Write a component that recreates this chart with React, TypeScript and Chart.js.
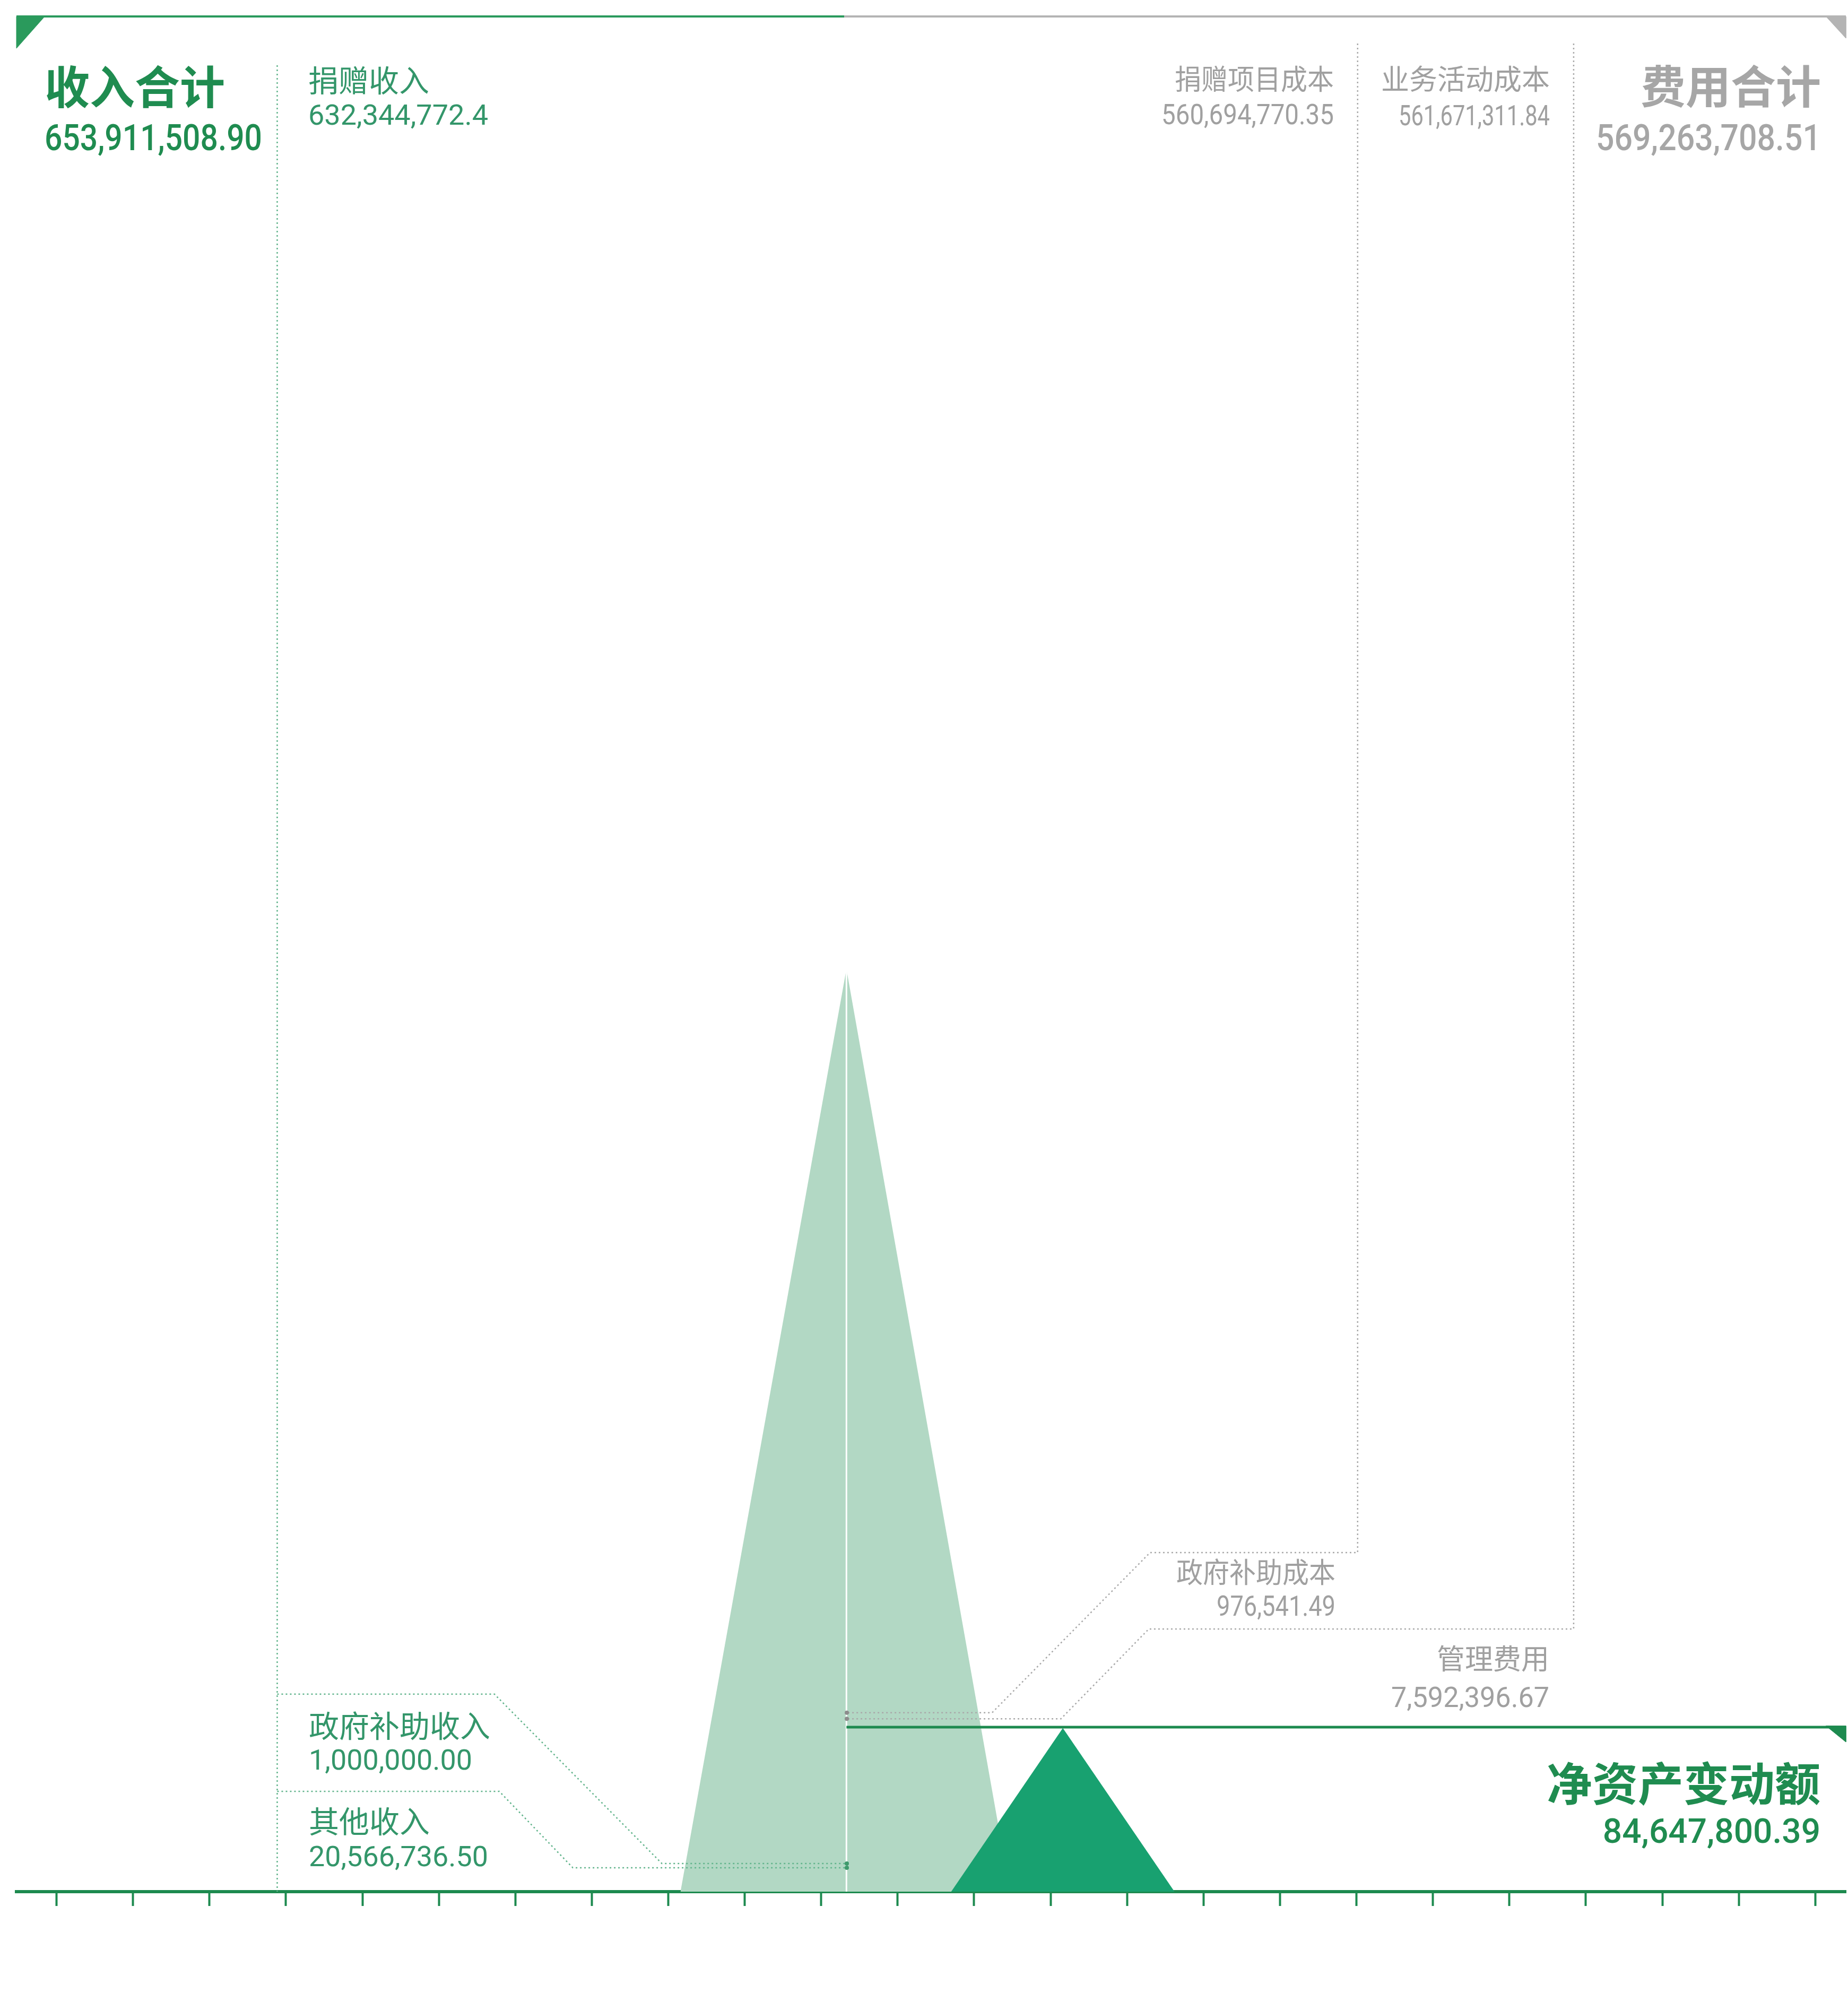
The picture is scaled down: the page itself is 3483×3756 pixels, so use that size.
import React, { useEffect, useRef } from 'react';
import { Chart, registerables } from 'chart.js';

Chart.register(...registerables);

// ---------- data ----------
const TICKS = [0, 1, 2, 3, 4, 5, 6, 7, 8, 9, 10, 11, 12, 13, 14, 15, 16, 17, 18, 19, 20, 21, 22, 23];

const INCOME_TITLE = '收入合计';
const INCOME_TOTAL = '653,911,508.90';
const INCOME_ITEMS = ['捐赠收入', '政府补助收入', '其他收入'];
const INCOME_VALUES = ['632,344,772.4', '1,000,000.00', '20,566,736.50'];

const EXPENSE_TITLE = '费用合计';
const EXPENSE_TOTAL = '569,263,708.51';
const EXPENSE_ITEMS = ['捐赠项目成本', '业务活动成本', '政府补助成本', '管理费用'];
const EXPENSE_VALUES = ['560,694,770.35', '561,671,311.84', '976,541.49', '7,592,396.67'];

const NET_TITLE = '净资产变动额';
const NET_VALUE = '84,647,800.39';

// shapes, in chart units (x = tick index, y = height 0..100)
const PEAK_X = [8.16, 10.33, 12.47];
const PEAK_Y = [0, 49.2, 0];
const NET_PEAK_X = [11.7, 13.16, 14.62];
const NET_PEAK_Y = [0, 8.72, 0];
const NET_LINE_X = [10.33, 23.18];
const NET_LINE_Y = [8.77, 8.77];
const NET_CORNER_X = [23.14, 23.4, 23.4, 23.14];
const NET_CORNER_Y = [8.84, 8.84, 7.98, 8.84];

const TOP_INCOME_X = [-0.524, 10.3];
const TOP_EXPENSE_X = [10.3, 23.4];
const TOP_Y = [100, 100];
const TOP_LEFT_CORNER_X = [-0.524, -0.155, -0.524, -0.524];
const TOP_LEFT_CORNER_Y = [100, 100, 98.3, 100];
const TOP_RIGHT_CORNER_X = [23.14, 23.4, 23.4, 23.14];
const TOP_RIGHT_CORNER_Y = [100, 100, 98.84, 100];

const DIVIDER_X = [10.33, 10.33];
const DIVIDER_Y = [49.2, 0];

const INCOME_AXIS_X = [2.886, 2.886];
const INCOME_AXIS_Y = [97.4, 0];
const LEADER_GOV_INCOME_X = [2.886, 5.727, 7.917, 10.335];
const LEADER_GOV_INCOME_Y = [10.53, 10.53, 1.5, 1.5];
const LEADER_OTHER_INCOME_X = [2.886, 5.79, 6.753, 10.335];
const LEADER_OTHER_INCOME_Y = [5.35, 5.35, 1.27, 1.27];
const LEADER_GOV_COST_X = [17.015, 17.015, 14.3, 12.234, 10.335];
const LEADER_GOV_COST_Y = [98.56, 18.08, 18.08, 9.54, 9.54];
const LEADER_MGMT_X = [19.84, 19.84, 14.285, 13.135, 10.335];
const LEADER_MGMT_Y = [98.56, 14.01, 14.01, 9.22, 9.22];

// ---------- styles ----------
const GREEN_DARK = '#1f8c50';
const GREEN_TEXT = '#33966a';
const GREEN_LINE = '#2a9a5c';
const GREEN_AXIS = '#1d8a4f';
const GREEN_LIGHT = '#b2d8c4';
const GREEN_FILL = '#18a170';
const GREEN_DOT = '#62b48c';
const GRAY_TEXT = '#a0a0a0';
const GRAY_BOLD = '#a6a6a6';
const GRAY_LINE = '#b4b4b4';
const GRAY_DOT = '#a9a9a9';

const CJK = '"Noto Sans CJK SC", "Noto Sans", sans-serif';
const NUM = 'Roboto, "Noto Sans", sans-serif';

const zip = (xs: number[], ys: number[]) => xs.map((x, i) => ({ x, y: ys[i] }));

const line = (xs: number[], ys: number[], color: string, width: number, extra: any = {}) => ({
  data: zip(xs, ys),
  showLine: true,
  borderColor: color,
  backgroundColor: color,
  borderWidth: width,
  pointRadius: 0,
  tension: 0,
  fill: false,
  clip: false,
  ...extra,
});

const area = (xs: number[], ys: number[], color: string, fill: any, border = 0) => ({
  data: zip(xs, ys),
  showLine: true,
  borderWidth: border,
  borderColor: color,
  backgroundColor: color,
  pointRadius: 0,
  tension: 0,
  fill,
  clip: false,
});

const leader = (xs: number[], ys: number[], color: string, dotColor: string) =>
  line(xs, ys, color, 2.5, {
    borderDash: [3, 5],
    pointRadius: (c: any) => (c.dataIndex === xs.length - 1 ? 4 : 0),
    pointBackgroundColor: dotColor,
    pointBorderWidth: 0,
  });

type LabelOpts = {
  size: number;
  weight?: number;
  color: string;
  align?: CanvasTextAlign;
  cjk?: boolean;
  maxWidth?: number;
};

const labelPlugin = {
  id: 'finLabels',
  afterDatasetsDraw(chart: any) {
    const ctx: CanvasRenderingContext2D = chart.ctx;
    const draw = (text: string, x: number, y: number, o: LabelOpts) => {
      ctx.save();
      ctx.font = `${o.weight ?? 400} ${o.size}px ${o.cjk ? CJK : NUM}`;
      ctx.fillStyle = o.color;
      ctx.textAlign = o.align ?? 'left';
      ctx.textBaseline = 'alphabetic';
      const yy = o.cjk ? y + 0.38 * o.size : y;
      if (o.maxWidth) ctx.fillText(text, x, yy, o.maxWidth);
      else ctx.fillText(text, x, yy);
      ctx.restore();
    };

    // totals
    draw(INCOME_TITLE, 84, 164, { size: 85, weight: 700, color: GREEN_DARK, cjk: true });
    draw(INCOME_TOTAL, 84, 283, { size: 68, weight: 500, color: GREEN_DARK, maxWidth: 410 });
    draw(EXPENSE_TITLE, 3432, 163, { size: 85, weight: 700, color: GRAY_BOLD, cjk: true, align: 'right' });
    draw(EXPENSE_TOTAL, 3432, 283, { size: 68, weight: 500, color: GRAY_BOLD, align: 'right', maxWidth: 424 });
    draw(NET_TITLE, 3431, 3361, { size: 86, weight: 700, color: GREEN_DARK, cjk: true, align: 'right' });
    draw(NET_VALUE, 3431, 3473, { size: 64, weight: 500, color: GREEN_DARK, align: 'right', maxWidth: 432 });

    // income items
    const inc = [
      [581, 151, 235, 340],
      [582, 3252, 3335, 308],
      [582, 3432, 3517, 338],
    ];
    INCOME_ITEMS.forEach((name, i) => {
      const [x, cy, by, mw] = inc[i];
      draw(name, x, cy, { size: 57, color: GREEN_TEXT, cjk: true });
      draw(INCOME_VALUES[i], x, by, { size: 54, color: GREEN_TEXT, maxWidth: mw });
    });

    // expense items
    const exp = [
      [2514, 149, 234, 325, 300],
      [2921, 149, 236, 285, 322],
      [2517, 2963, 3045, 224, 300],
      [2920, 3126, 3217, 298, 222],
    ];
    EXPENSE_ITEMS.forEach((name, i) => {
      const [x, cy, by, mw, lw] = exp[i];
      draw(name, x, cy, { size: 53, color: GRAY_TEXT, cjk: true, align: 'right', maxWidth: lw });
      draw(EXPENSE_VALUES[i], x, by, { size: 54, color: GRAY_TEXT, align: 'right', maxWidth: mw });
    });
  },
};

export default function App() {
  const ref = useRef<HTMLCanvasElement | null>(null);

  useEffect(() => {
    if (!ref.current) return;
    const datasets: any[] = [
      // leaders (top-most)
      leader(LEADER_GOV_COST_X, LEADER_GOV_COST_Y, GRAY_DOT, '#8c8c8c'),
      leader(LEADER_MGMT_X, LEADER_MGMT_Y, GRAY_DOT, '#8c8c8c'),
      leader(LEADER_GOV_INCOME_X, LEADER_GOV_INCOME_Y, GREEN_DOT, '#3f9a6c'),
      leader(LEADER_OTHER_INCOME_X, LEADER_OTHER_INCOME_Y, GREEN_DOT, '#3f9a6c'),
      line(INCOME_AXIS_X, INCOME_AXIS_Y, GREEN_DOT, 2.5, { borderDash: [3, 5] }),
      // net change level
      line(NET_LINE_X, NET_LINE_Y, GREEN_AXIS, 5),
      area(NET_CORNER_X, NET_CORNER_Y, GREEN_AXIS, 'shape', 1),
      // net change triangle
      area(NET_PEAK_X, NET_PEAK_Y, GREEN_FILL, 'origin'),
      // divider inside big triangle
      line(DIVIDER_X, DIVIDER_Y, '#ffffff', 3),
      // big income triangle
      area(PEAK_X, PEAK_Y, GREEN_LIGHT, 'origin'),
      // top bars
      line(TOP_INCOME_X, TOP_Y, GREEN_LINE, 4),
      line(TOP_EXPENSE_X, TOP_Y, GRAY_LINE, 4),
      area(TOP_LEFT_CORNER_X, TOP_LEFT_CORNER_Y, GREEN_LINE, 'shape', 1),
      area(TOP_RIGHT_CORNER_X, TOP_RIGHT_CORNER_Y, GRAY_LINE, 'shape', 1),
    ];

    const chart = new Chart(ref.current, {
      type: 'scatter',
      data: { datasets },
      plugins: [labelPlugin],
      options: {
        animation: false,
        responsive: true,
        maintainAspectRatio: false,
        devicePixelRatio: 1,
        events: [],
        layout: { padding: { left: 31, right: 0, top: 31, bottom: 164 } },
        plugins: {
          legend: { display: false },
          tooltip: { enabled: false },
          title: { display: false },
        },
        scales: {
          x: {
            type: 'linear',
            min: -0.524,
            max: 23.4,
            afterBuildTicks: (scale: any) => {
              scale.ticks = TICKS.map((v) => ({ value: v }));
            },
            ticks: { display: false },
            grid: {
              display: true,
              drawOnChartArea: false,
              drawTicks: true,
              tickLength: 27,
              tickWidth: 4,
              tickColor: GREEN_AXIS,
              color: GREEN_AXIS,
            },
            border: { display: true, color: GREEN_AXIS, width: 6 },
          },
          y: {
            type: 'linear',
            min: 0,
            max: 100,
            display: false,
          },
        },
      } as any,
    });
    return () => chart.destroy();
  }, []);

  return (
    <div style={{ position: 'absolute', left: 0, top: 0, width: 3483, height: 3756, background: '#ffffff' }}>
      <canvas ref={ref} />
    </div>
  );
}
